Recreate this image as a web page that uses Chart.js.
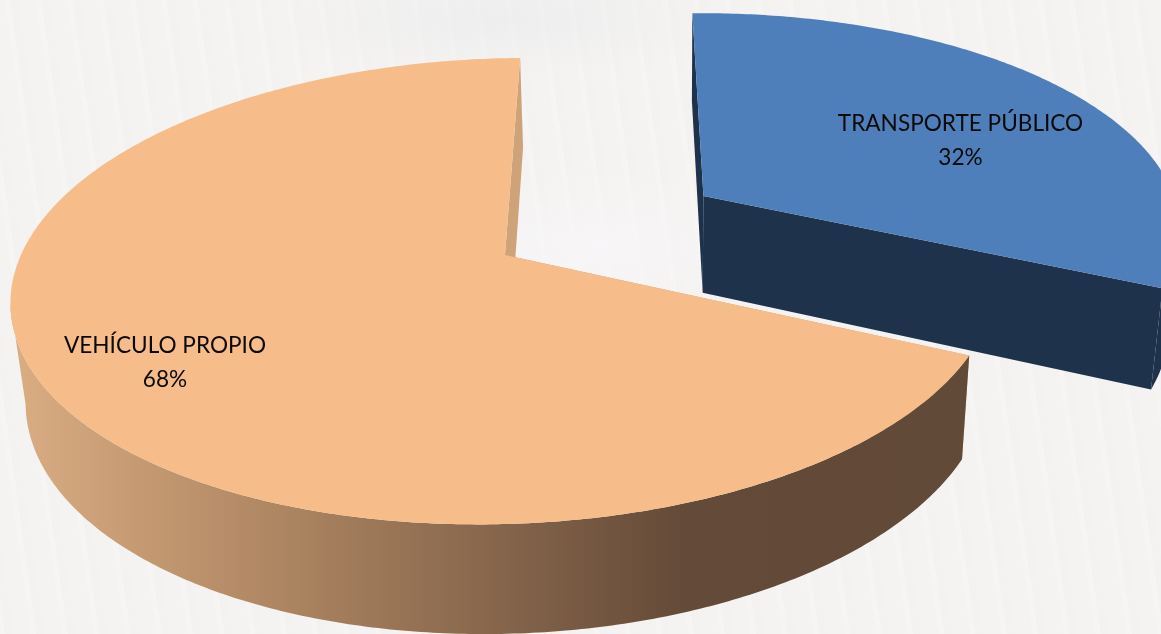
<!DOCTYPE html>
<html>
<head>
<meta charset="utf-8">
<style>
  html, body { margin: 0; padding: 0; width: 1161px; height: 634px; overflow: hidden; }
  body {
    background-color: #f4f3f1;
    background-image:
      radial-gradient(ellipse 170px 70px at 600px 245px, rgba(248,246,248,0.95), rgba(248,246,248,0)),
      radial-gradient(ellipse 240px 60px at 500px 20px, rgba(236,236,238,0.7), rgba(236,236,238,0)),
      repeating-linear-gradient(82deg, rgba(255,255,255,0.16) 0 5px, rgba(234,234,230,0.1) 5px 13px, rgba(255,255,255,0) 13px 31px);
  }
  canvas { display: block; }
</style>
</head>
<body>
<canvas id="chart" width="1161" height="634"></canvas>
<script src="https://cdn.jsdelivr.net/npm/chart.js@4"></script>
<script>
const categories = ['TRANSPORTE PÚBLICO', 'VEHÍCULO PROPIO'];
const shares = [32, 68];
const topColors = ['#4e7fbb', '#f6bc8a'];
const flatWallColors = ['#1e324c', '#cfa379'];
const sideColors = ['#1e324c', null];   // null = brown gradient, see below

// projection of the pie plane, the chart is a tilted 3D pie
const topPlane = { c: 505, f: 255, q: 0 };
const bottomPlane = { c: 520.3, f: 362.2, q: 0.0229 };

function project(plane, u, v) {
  const d = 1 - 0.002 * u - 0.155 * v + plane.q;
  return {
    x: (485.5 * u - 95.8 * v + plane.c) / d,
    y: (-4 * u + 188.1 * v + plane.f) / d
  };
}

function tracePoints(ctx, pts) {
  ctx.beginPath();
  pts.forEach((p, i) => i ? ctx.lineTo(p.x, p.y) : ctx.moveTo(p.x, p.y));
  ctx.closePath();
}

const pie3d = {
  id: 'pie3d',
  beforeDatasetsDraw(chart) {
    const ctx = chart.ctx;
    const arcs = chart.getDatasetMeta(0).data;

    const side = ctx.createLinearGradient(20, 0, 970, 0);
    side.addColorStop(0, '#d9ac82');
    side.addColorStop(0.27, '#ae8662');
    side.addColorStop(0.7, '#644a38');
    side.addColorStop(1, '#624a38');

    arcs.forEach((arc, i) => {
      const { startAngle, endAngle, outerRadius } = arc;
      const mid = (startAngle + endAngle) / 2;
      const offset = arc.options.offset / outerRadius;
      const cu = Math.cos(mid) * offset;
      const cv = Math.sin(mid) * offset;

      const rim = [];
      const steps = Math.ceil((endAngle - startAngle) * 90);
      for (let s = 0; s <= steps; s++) {
        const a = startAngle + (endAngle - startAngle) * s / steps;
        rim.push([cu + Math.cos(a), cv + Math.sin(a)]);
      }
      const first = rim[0];
      const last = rim[rim.length - 1];
      const on = (plane, p) => project(plane, p[0], p[1]);

      // wall at the start of the slice is behind everything
      ctx.fillStyle = flatWallColors[i];
      tracePoints(ctx, [on(topPlane, [cu, cv]), on(topPlane, first), on(bottomPlane, first), on(bottomPlane, [cu, cv])]);
      ctx.fill();

      // round wall, only the part that faces the viewer
      const front = rim.filter((p, s) => {
        const t0 = on(topPlane, rim[Math.max(s - 1, 0)]);
        const t1 = on(topPlane, rim[Math.min(s + 1, rim.length - 1)]);
        return t1.x < t0.x;
      });
      if (front.length > 1) {
        ctx.fillStyle = sideColors[i] || side;
        tracePoints(ctx, front.map(p => on(topPlane, p)).concat(front.slice().reverse().map(p => on(bottomPlane, p))));
        ctx.fill();
      }

      // wall at the end of the slice, then the lid
      ctx.fillStyle = flatWallColors[i];
      tracePoints(ctx, [on(topPlane, [cu, cv]), on(topPlane, last), on(bottomPlane, last), on(bottomPlane, [cu, cv])]);
      ctx.fill();

      ctx.fillStyle = topColors[i];
      tracePoints(ctx, [on(topPlane, [cu, cv])].concat(rim.map(p => on(topPlane, p))));
      ctx.fill();
    });
    return false;
  },
  afterDraw(chart, args, opts) {
    const ctx = chart.ctx;
    ctx.fillStyle = '#0a0a0a';
    ctx.font = opts.font;
    ctx.textAlign = 'center';
    ctx.textBaseline = 'middle';
    categories.forEach((name, i) => {
      const pos = opts.at[i];
      ctx.fillText(name, pos.x, pos.y);
      ctx.fillText(shares[i] + '%', pos.x, pos.y + 34);
    });
  }
};

new Chart(document.getElementById('chart'), {
  type: 'pie',
  data: {
    labels: categories,
    datasets: [{
      data: shares,
      backgroundColor: topColors,
      borderWidth: 0,
      offset: [125, 0]
    }]
  },
  options: {
    responsive: false,
    animation: false,
    rotation: 0,
    plugins: {
      legend: { display: false },
      tooltip: { enabled: false },
      pie3d: {
        font: '22.6px Lato',
        at: [{ x: 960.5, y: 124 }, { x: 165, y: 346 }]
      }
    }
  },
  plugins: [pie3d]
});
</script>
</body>
</html>
